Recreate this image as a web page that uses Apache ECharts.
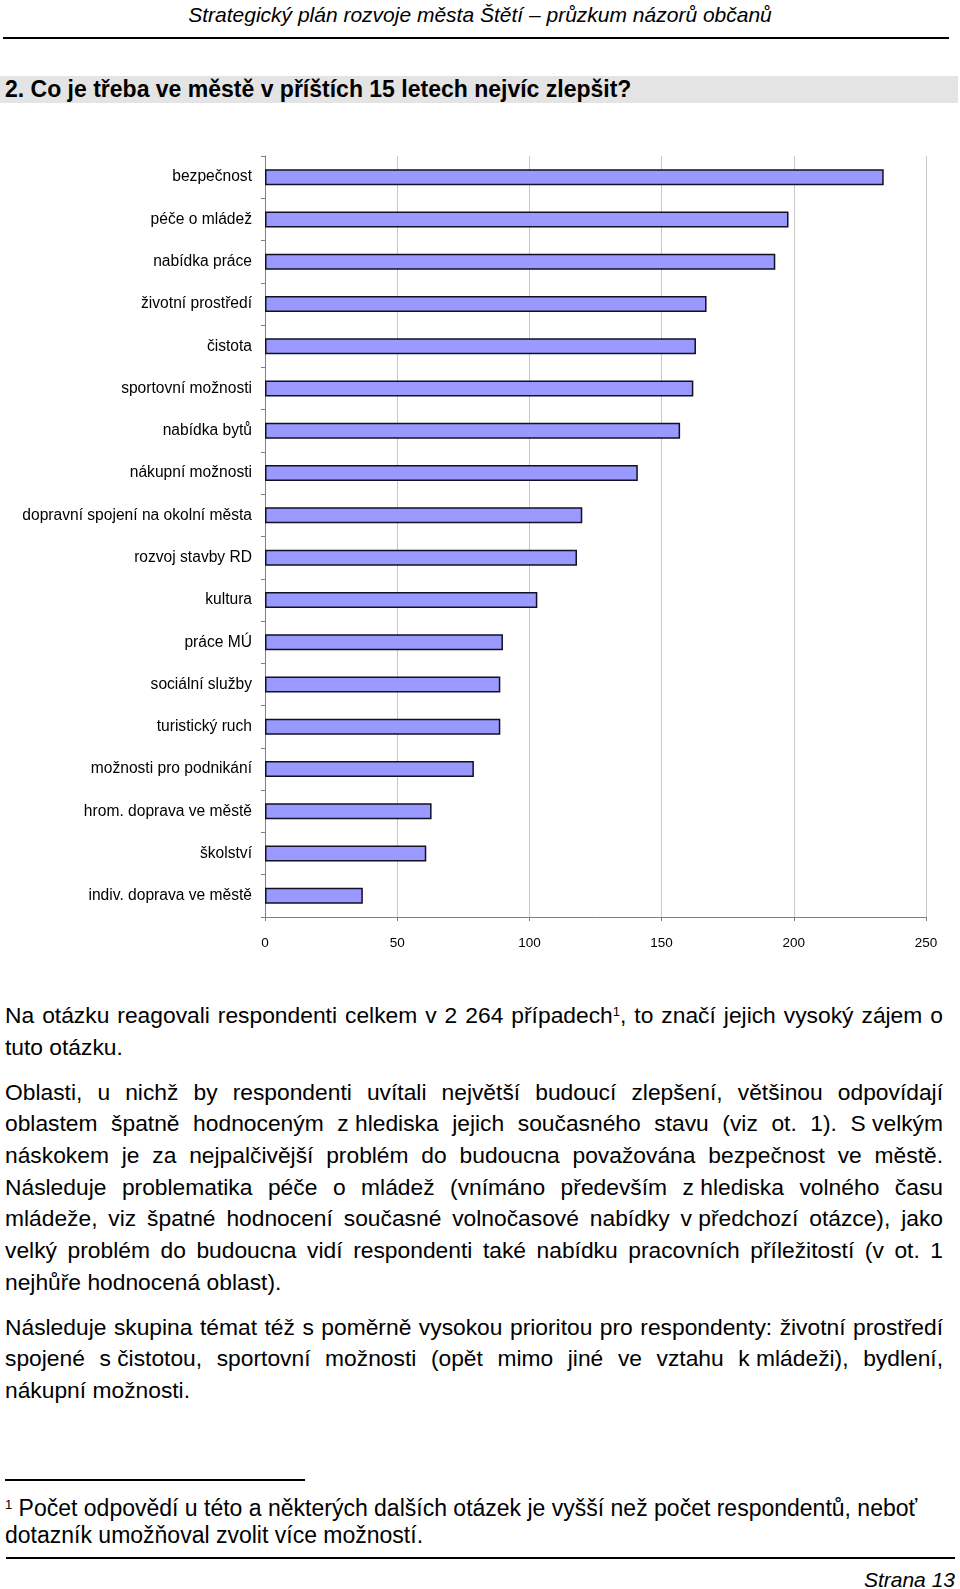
<!DOCTYPE html>
<html lang="cs">
<head>
<meta charset="utf-8">
<script src="https://cdn.jsdelivr.net/npm/echarts@6/dist/echarts.min.js"></script>
<style>
  html, body { margin: 0; padding: 0; background: #fff; }
  body { width: 960px; height: 1589px; position: relative; overflow: hidden; font-family: 'Liberation Sans', Arial, sans-serif; color: #000; }
  #chart { position: absolute; left: 0; top: 0; width: 960px; height: 975px; }
  .abs { position: absolute; }
  .ln { position: absolute; left: 5px; width: 938px; font-size: 22.8px; line-height: 32px; height: 32px; }
  .j { text-align: justify; text-align-last: justify; }
  .nb { display: inline-block; }
  .fn { position: absolute; left: 5px; font-size: 23px; line-height: 28px; white-space: nowrap; }
  sup { font-size: 13px; vertical-align: top; position: relative; top: -3px; }
</style>
</head>
<body>
<div class="abs" style="left:0;top:1px;width:960px;text-align:center;font-style:italic;font-size:21px;line-height:28px;">Strategický plán rozvoje města Štětí – průzkum názorů občanů</div>
<div class="abs" style="left:3px;top:37px;width:946px;height:2px;background:#000;"></div>
<div class="abs" style="left:0;top:76px;width:958px;height:27px;background:#e4e4e4;"></div>
<div class="abs" style="left:5px;top:75px;font-weight:bold;font-size:23px;line-height:28px;white-space:nowrap;">2. Co je třeba ve městě v příštích 15 letech nejvíc zlepšit?</div>

<div id="chart"></div>

<div class="ln j" style="top:999px;">Na otázku reagovali respondenti celkem v 2 264 případech<sup>1</sup>, to značí jejich vysoký zájem o</div>
<div class="ln" style="top:1031px;">tuto otázku.</div>

<div class="ln j" style="top:1076px;">Oblasti, u nichž by respondenti uvítali největší budoucí zlepšení, většinou odpovídají</div>
<div class="ln j" style="top:1107px;">oblastem špatně hodnoceným <span class="nb">z hlediska</span> jejich současného stavu (viz ot. 1). <span class="nb">S velkým</span></div>
<div class="ln j" style="top:1139px;">náskokem je za nejpalčivější problém do budoucna považována bezpečnost ve městě.</div>
<div class="ln j" style="top:1171px;">Následuje problematika péče o mládež (vnímáno především <span class="nb">z hlediska</span> volného času</div>
<div class="ln j" style="top:1202px;">mládeže, viz špatné hodnocení současné volnočasové nabídky <span class="nb">v předchozí</span> otázce), jako</div>
<div class="ln j" style="top:1234px;">velký problém do budoucna vidí respondenti také nabídku pracovních příležitostí (v ot. 1</div>
<div class="ln" style="top:1266px;">nejhůře hodnocená oblast).</div>

<div class="ln j" style="top:1311px;">Následuje skupina témat též s poměrně vysokou prioritou pro respondenty: životní prostředí</div>
<div class="ln j" style="top:1342px;">spojené <span class="nb">s čistotou,</span> sportovní možnosti (opět mimo jiné ve vztahu <span class="nb">k mládeži),</span> bydlení,</div>
<div class="ln" style="top:1374px;">nákupní možnosti.</div>

<div class="abs" style="left:5px;top:1479px;width:300px;height:1.5px;background:#000;"></div>
<div class="fn" style="top:1494px;"><sup>1</sup> Počet odpovědí u této a některých dalších otázek je vyšší než počet respondentů, neboť</div>
<div class="fn" style="top:1521px;">dotazník umožňoval zvolit více možností.</div>
<div class="abs" style="left:6px;top:1557px;width:949px;height:2px;background:#000;"></div>
<div class="abs" style="right:5px;top:1566px;font-style:italic;font-size:21px;line-height:28px;">Strana 13</div>

<script>
const categories = ['bezpečnost', 'péče o mládež', 'nabídka práce', 'životní prostředí', 'čistota',
  'sportovní možnosti', 'nabídka bytů', 'nákupní možnosti', 'dopravní spojení na okolní města',
  'rozvoj stavby RD', 'kultura', 'práce MÚ', 'sociální služby', 'turistický ruch',
  'možnosti pro podnikání', 'hrom. doprava ve městě', 'školství', 'indiv. doprava ve městě'];
const counts = [234, 198, 193, 167, 163, 162, 157, 141, 120, 118, 103, 90, 89, 89, 79, 63, 61, 37];
const valueMin = 0;
const valueMax = 250;
const valueStep = 50;

const font = "'Liberation Sans', Arial, sans-serif";
const chart = echarts.init(document.getElementById('chart'), null, { renderer: 'canvas' });
chart.setOption({
  animation: false,
  backgroundColor: 'transparent',
  grid: { left: 265, top: 156, width: 661, height: 761, containLabel: false, outerBoundsMode: 'none' },
  xAxis: {
    type: 'value', min: valueMin, max: valueMax, interval: valueStep,
    axisLine: { show: true, lineStyle: { color: '#808080', width: 1 } },
    axisTick: { show: true, length: 4, lineStyle: { color: '#808080' } },
    splitLine: { show: true, lineStyle: { color: '#c8c8c8', width: 1 } },
    axisLabel: { color: '#000', fontSize: 13.5, fontFamily: font, margin: 19 }
  },
  yAxis: {
    type: 'category', data: categories, inverse: true,
    axisLine: { show: true, lineStyle: { color: '#808080', width: 1 } },
    axisTick: { show: true, length: 4, lineStyle: { color: '#808080' } },
    splitLine: { show: false },
    axisLabel: { color: '#000', fontSize: 15.6, fontFamily: font, margin: 13 }
  },
  series: [{
    type: 'bar', data: counts, barWidth: 16,
    itemStyle: { color: '#9999ff', borderColor: '#111122', borderWidth: 1.5 }
  }]
});
</script>
</body>
</html>
